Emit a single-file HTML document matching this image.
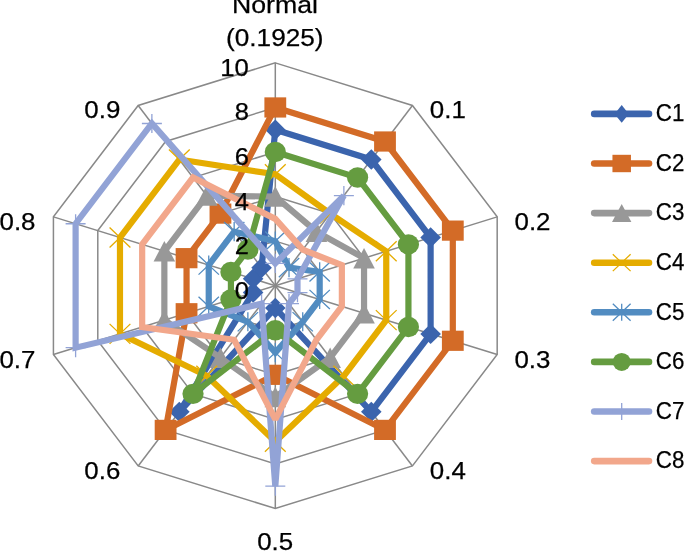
<!DOCTYPE html>
<html lang="en"><head><meta charset="utf-8"><title>Radar chart</title>
<style>html,body{margin:0;padding:0;background:#fff}body{width:685px;height:552px;overflow:hidden}svg{display:block}</style>
</head><body>
<svg width="685" height="552" viewBox="0 0 685 552">
<rect width="685" height="552" fill="#fff"/>
<g fill="none" stroke="#898989" stroke-width="1.5">
<polygon points="275.3,241.14 302.73,249.65 319.68,271.93 319.68,299.47 302.73,321.75 275.3,330.26 247.87,321.75 230.92,299.47 230.92,271.93 247.87,249.65"/>
<polygon points="275.3,196.58 330.15,213.6 364.05,258.16 364.05,313.24 330.15,357.8 275.3,374.82 220.45,357.8 186.55,313.24 186.55,258.16 220.45,213.6"/>
<polygon points="275.3,152.02 357.58,177.55 408.43,244.39 408.43,327.01 357.58,393.85 275.3,419.38 193.02,393.85 142.17,327.01 142.17,244.39 193.02,177.55"/>
<polygon points="275.3,107.46 385,141.5 452.81,230.62 452.81,340.78 385,429.9 275.3,463.94 165.6,429.9 97.79,340.78 97.79,230.62 165.6,141.5"/>
<polygon points="275.3,62.9 412.43,105.45 497.18,216.85 497.18,354.55 412.43,465.95 275.3,508.5 138.17,465.95 53.42,354.55 53.42,216.85 138.17,105.45"/>
<line x1="275.3" y1="285.7" x2="275.3" y2="62.9"/>
<line x1="275.3" y1="285.7" x2="412.43" y2="105.45"/>
<line x1="275.3" y1="285.7" x2="497.18" y2="216.85"/>
<line x1="275.3" y1="285.7" x2="497.18" y2="354.55"/>
<line x1="275.3" y1="285.7" x2="412.43" y2="465.95"/>
<line x1="275.3" y1="285.7" x2="275.3" y2="508.5"/>
<line x1="275.3" y1="285.7" x2="138.17" y2="465.95"/>
<line x1="275.3" y1="285.7" x2="53.42" y2="354.55"/>
<line x1="275.3" y1="285.7" x2="53.42" y2="216.85"/>
<line x1="275.3" y1="285.7" x2="138.17" y2="105.45"/>
</g>
<g>
<polygon points="275.3,129.74 371.29,159.53 430.62,237.51 430.62,333.89 371.29,411.87 275.3,307.98 179.31,411.87 253.11,292.58 253.11,278.82 261.59,267.68" fill="none" stroke="#3b64ad" stroke-width="6.2" stroke-linejoin="miter" stroke-miterlimit="2"/>
<polygon points="275.3,119.54 285.6,129.74 275.3,139.94 265,129.74" fill="#3b64ad"/>
<polygon points="371.29,149.33 381.59,159.53 371.29,169.73 360.99,159.53" fill="#3b64ad"/>
<polygon points="430.62,227.31 440.92,237.51 430.62,247.71 420.32,237.51" fill="#3b64ad"/>
<polygon points="430.62,323.69 440.92,333.89 430.62,344.09 420.32,333.89" fill="#3b64ad"/>
<polygon points="371.29,401.67 381.59,411.87 371.29,422.07 360.99,411.87" fill="#3b64ad"/>
<polygon points="275.3,297.78 285.6,307.98 275.3,318.18 265,307.98" fill="#3b64ad"/>
<polygon points="179.31,401.67 189.61,411.87 179.31,422.07 169.01,411.87" fill="#3b64ad"/>
<polygon points="253.11,282.38 263.41,292.58 253.11,302.78 242.81,292.58" fill="#3b64ad"/>
<polygon points="253.11,268.62 263.41,278.82 253.11,289.02 242.81,278.82" fill="#3b64ad"/>
<polygon points="261.59,257.48 271.89,267.68 261.59,277.88 251.29,267.68" fill="#3b64ad"/>
</g>
<g>
<polygon points="275.3,107.46 385,141.5 452.81,230.62 452.81,340.78 385,429.9 275.3,374.82 165.6,429.9 186.55,313.24 186.55,258.16 220.45,213.6" fill="none" stroke="#d36b27" stroke-width="6.2" stroke-linejoin="miter" stroke-miterlimit="2"/>
<rect x="264.4" y="97.36" width="21.8" height="20.2" fill="#d36b27"/>
<rect x="374.1" y="131.4" width="21.8" height="20.2" fill="#d36b27"/>
<rect x="441.91" y="220.52" width="21.8" height="20.2" fill="#d36b27"/>
<rect x="441.91" y="330.68" width="21.8" height="20.2" fill="#d36b27"/>
<rect x="374.1" y="419.8" width="21.8" height="20.2" fill="#d36b27"/>
<rect x="264.4" y="364.72" width="21.8" height="20.2" fill="#d36b27"/>
<rect x="154.7" y="419.8" width="21.8" height="20.2" fill="#d36b27"/>
<rect x="175.65" y="303.14" width="21.8" height="20.2" fill="#d36b27"/>
<rect x="175.65" y="248.06" width="21.8" height="20.2" fill="#d36b27"/>
<rect x="209.55" y="203.5" width="21.8" height="20.2" fill="#d36b27"/>
</g>
<g>
<polygon points="275.3,196.58 316.44,231.63 364.05,258.16 364.05,313.24 330.15,357.8 275.3,397.1 220.45,357.8 164.36,320.12 164.36,251.28 206.73,195.58" fill="none" stroke="#989898" stroke-width="6.2" stroke-linejoin="miter" stroke-miterlimit="2"/>
<polygon points="275.3,186.33 286.1,206.83 264.5,206.83" fill="#989898"/>
<polygon points="316.44,221.38 327.24,241.88 305.64,241.88" fill="#989898"/>
<polygon points="364.05,247.91 374.85,268.41 353.25,268.41" fill="#989898"/>
<polygon points="364.05,302.99 374.85,323.49 353.25,323.49" fill="#989898"/>
<polygon points="330.15,347.55 340.95,368.05 319.35,368.05" fill="#989898"/>
<polygon points="275.3,386.85 286.1,407.35 264.5,407.35" fill="#989898"/>
<polygon points="220.45,347.55 231.25,368.05 209.65,368.05" fill="#989898"/>
<polygon points="164.36,309.87 175.16,330.37 153.56,330.37" fill="#989898"/>
<polygon points="164.36,241.03 175.16,261.53 153.56,261.53" fill="#989898"/>
<polygon points="206.73,185.33 217.53,205.83 195.93,205.83" fill="#989898"/>
</g>
<g>
<polygon points="275.3,174.3 330.15,213.6 386.24,251.28 386.24,320.12 343.87,375.82 275.3,441.66 206.73,375.82 119.98,333.89 119.98,237.51 179.31,159.53" fill="none" stroke="#e5ac00" stroke-width="6.2" stroke-linejoin="miter" stroke-miterlimit="2"/>
<path d="M264.9 164.3L285.7 184.3M264.9 184.3L285.7 164.3" stroke="#e5ac00" stroke-width="1.3" fill="none"/>
<path d="M319.75 203.6L340.55 223.6M319.75 223.6L340.55 203.6" stroke="#e5ac00" stroke-width="1.3" fill="none"/>
<path d="M375.84 241.28L396.64 261.28M375.84 261.28L396.64 241.28" stroke="#e5ac00" stroke-width="1.3" fill="none"/>
<path d="M375.84 310.12L396.64 330.12M375.84 330.12L396.64 310.12" stroke="#e5ac00" stroke-width="1.3" fill="none"/>
<path d="M333.47 365.82L354.27 385.82M333.47 385.82L354.27 365.82" stroke="#e5ac00" stroke-width="1.3" fill="none"/>
<path d="M264.9 431.66L285.7 451.66M264.9 451.66L285.7 431.66" stroke="#e5ac00" stroke-width="1.3" fill="none"/>
<path d="M196.33 365.82L217.13 385.82M196.33 385.82L217.13 365.82" stroke="#e5ac00" stroke-width="1.3" fill="none"/>
<path d="M109.58 323.89L130.38 343.89M109.58 343.89L130.38 323.89" stroke="#e5ac00" stroke-width="1.3" fill="none"/>
<path d="M109.58 227.51L130.38 247.51M109.58 247.51L130.38 227.51" stroke="#e5ac00" stroke-width="1.3" fill="none"/>
<path d="M168.91 149.53L189.71 169.53M168.91 169.53L189.71 149.53" stroke="#e5ac00" stroke-width="1.3" fill="none"/>
</g>
<g>
<polygon points="275.3,241.14 289.01,267.68 319.68,271.93 319.68,299.47 302.73,321.75 275.3,352.54 247.87,321.75 208.74,306.35 208.74,265.05 234.16,231.63" fill="none" stroke="#528cc1" stroke-width="6.2" stroke-linejoin="miter" stroke-miterlimit="2"/>
<path d="M265.1 231.54L285.5 250.74M265.1 250.74L285.5 231.54M275.3 231.54L275.3 250.74" stroke="#528cc1" stroke-width="1.3" fill="none"/>
<path d="M278.81 258.08L299.21 277.28M278.81 277.28L299.21 258.08M289.01 258.08L289.01 277.28" stroke="#528cc1" stroke-width="1.3" fill="none"/>
<path d="M309.48 262.33L329.88 281.53M309.48 281.53L329.88 262.33M319.68 262.33L319.68 281.53" stroke="#528cc1" stroke-width="1.3" fill="none"/>
<path d="M309.48 289.87L329.88 309.07M309.48 309.07L329.88 289.87M319.68 289.87L319.68 309.07" stroke="#528cc1" stroke-width="1.3" fill="none"/>
<path d="M292.53 312.15L312.93 331.35M292.53 331.35L312.93 312.15M302.73 312.15L302.73 331.35" stroke="#528cc1" stroke-width="1.3" fill="none"/>
<path d="M265.1 342.94L285.5 362.14M265.1 362.14L285.5 342.94M275.3 342.94L275.3 362.14" stroke="#528cc1" stroke-width="1.3" fill="none"/>
<path d="M237.67 312.15L258.07 331.35M237.67 331.35L258.07 312.15M247.87 312.15L247.87 331.35" stroke="#528cc1" stroke-width="1.3" fill="none"/>
<path d="M198.54 296.75L218.94 315.95M198.54 315.95L218.94 296.75M208.74 296.75L208.74 315.95" stroke="#528cc1" stroke-width="1.3" fill="none"/>
<path d="M198.54 255.45L218.94 274.65M198.54 274.65L218.94 255.45M208.74 255.45L208.74 274.65" stroke="#528cc1" stroke-width="1.3" fill="none"/>
<path d="M223.96 222.03L244.36 241.23M223.96 241.23L244.36 222.03M234.16 222.03L234.16 241.23" stroke="#528cc1" stroke-width="1.3" fill="none"/>
</g>
<g>
<polygon points="275.3,152.02 357.58,177.55 408.43,244.39 408.43,327.01 357.58,393.85 275.3,330.26 193.02,393.85 230.92,299.47 230.92,271.93 247.87,249.65" fill="none" stroke="#659c40" stroke-width="6.2" stroke-linejoin="miter" stroke-miterlimit="2"/>
<ellipse cx="275.3" cy="152.02" rx="10.6" ry="10.2" fill="#659c40"/>
<ellipse cx="357.58" cy="177.55" rx="10.6" ry="10.2" fill="#659c40"/>
<ellipse cx="408.43" cy="244.39" rx="10.6" ry="10.2" fill="#659c40"/>
<ellipse cx="408.43" cy="327.01" rx="10.6" ry="10.2" fill="#659c40"/>
<ellipse cx="357.58" cy="393.85" rx="10.6" ry="10.2" fill="#659c40"/>
<ellipse cx="275.3" cy="330.26" rx="10.6" ry="10.2" fill="#659c40"/>
<ellipse cx="193.02" cy="393.85" rx="10.6" ry="10.2" fill="#659c40"/>
<ellipse cx="230.92" cy="299.47" rx="10.6" ry="10.2" fill="#659c40"/>
<ellipse cx="230.92" cy="271.93" rx="10.6" ry="10.2" fill="#659c40"/>
<ellipse cx="247.87" cy="249.65" rx="10.6" ry="10.2" fill="#659c40"/>
</g>
<g>
<polygon points="275.3,263.42 343.87,195.58 297.49,278.82 297.49,292.58 289.01,303.72 275.3,486.22 261.59,303.72 75.61,347.66 75.61,223.74 151.88,123.48" fill="none" stroke="#92a3d6" stroke-width="6.2" stroke-linejoin="miter" stroke-miterlimit="2"/>
<path d="M265.3 263.42L285.3 263.42M275.3 253.82L275.3 273.02" stroke="#92a3d6" stroke-width="1.3" fill="none"/>
<path d="M333.87 195.58L353.87 195.58M343.87 185.98L343.87 205.18" stroke="#92a3d6" stroke-width="1.3" fill="none"/>
<path d="M287.49 278.82L307.49 278.82M297.49 269.22L297.49 288.42" stroke="#92a3d6" stroke-width="1.3" fill="none"/>
<path d="M287.49 292.58L307.49 292.58M297.49 282.98L297.49 302.18" stroke="#92a3d6" stroke-width="1.3" fill="none"/>
<path d="M279.01 303.72L299.01 303.72M289.01 294.12L289.01 313.32" stroke="#92a3d6" stroke-width="1.3" fill="none"/>
<path d="M265.3 486.22L285.3 486.22M275.3 476.62L275.3 495.82" stroke="#92a3d6" stroke-width="1.3" fill="none"/>
<path d="M251.59 303.72L271.59 303.72M261.59 294.12L261.59 313.32" stroke="#92a3d6" stroke-width="1.3" fill="none"/>
<path d="M65.61 347.66L85.61 347.66M75.61 338.06L75.61 357.26" stroke="#92a3d6" stroke-width="1.3" fill="none"/>
<path d="M65.61 223.74L85.61 223.74M75.61 214.14L75.61 233.34" stroke="#92a3d6" stroke-width="1.3" fill="none"/>
<path d="M141.88 123.48L161.88 123.48M151.88 113.88L151.88 133.08" stroke="#92a3d6" stroke-width="1.3" fill="none"/>
</g>
<g>
<polygon points="275.3,218.86 302.73,249.65 341.86,265.05 341.86,306.35 316.44,339.77 275.3,419.38 234.16,339.77 142.17,327.01 142.17,244.39 193.02,177.55" fill="none" stroke="#f2a78b" stroke-width="6.2" stroke-linejoin="miter" stroke-miterlimit="2"/>
</g>
<line x1="594.2" y1="113.9" x2="649" y2="113.9" stroke="#3b64ad" stroke-width="6.6" stroke-linecap="round"/>
<polygon points="621.7,105 628.8,113.9 621.7,122.8 614.6,113.9" fill="#3b64ad"/>
<line x1="594.2" y1="163.5" x2="649" y2="163.5" stroke="#d36b27" stroke-width="6.6" stroke-linecap="round"/>
<rect x="612.45" y="154.8" width="18.5" height="17.4" fill="#d36b27"/>
<line x1="594.2" y1="213.1" x2="649" y2="213.1" stroke="#989898" stroke-width="6.6" stroke-linecap="round"/>
<polygon points="621.7,204.1 631.4,222.1 612,222.1" fill="#989898"/>
<line x1="594.2" y1="262.7" x2="649" y2="262.7" stroke="#e5ac00" stroke-width="6.6" stroke-linecap="round"/>
<path d="M612.8 254.3L630.6 271.1M612.8 271.1L630.6 254.3" stroke="#e5ac00" stroke-width="1.3" fill="none"/>
<line x1="594.2" y1="312.3" x2="649" y2="312.3" stroke="#528cc1" stroke-width="6.6" stroke-linecap="round"/>
<path d="M612.8 303.8L630.6 320.8M612.8 320.8L630.6 303.8M621.7 303.8L621.7 320.8" stroke="#528cc1" stroke-width="1.3" fill="none"/>
<line x1="594.2" y1="361.9" x2="649" y2="361.9" stroke="#659c40" stroke-width="6.6" stroke-linecap="round"/>
<ellipse cx="621.7" cy="361.9" rx="9.0" ry="9.0" fill="#659c40"/>
<line x1="594.2" y1="411.5" x2="649" y2="411.5" stroke="#92a3d6" stroke-width="6.6" stroke-linecap="round"/>
<path d="M612.8 411.5L630.6 411.5M621.7 403.1L621.7 419.9" stroke="#92a3d6" stroke-width="1.3" fill="none"/>
<line x1="594.2" y1="461.1" x2="649" y2="461.1" stroke="#f2a78b" stroke-width="6.6" stroke-linecap="round"/>
<g font-family="'Liberation Sans', sans-serif" font-size="24.6" fill="#000" stroke="#000" stroke-width="0.25">
<text x="655.8" y="121.1" text-anchor="start" textLength="28.6" lengthAdjust="spacingAndGlyphs">C1</text>
<text x="655.8" y="170.7" text-anchor="start" textLength="28.6" lengthAdjust="spacingAndGlyphs">C2</text>
<text x="655.8" y="220.3" text-anchor="start" textLength="28.6" lengthAdjust="spacingAndGlyphs">C3</text>
<text x="655.8" y="269.9" text-anchor="start" textLength="28.6" lengthAdjust="spacingAndGlyphs">C4</text>
<text x="655.8" y="319.5" text-anchor="start" textLength="28.6" lengthAdjust="spacingAndGlyphs">C5</text>
<text x="655.8" y="369.1" text-anchor="start" textLength="28.6" lengthAdjust="spacingAndGlyphs">C6</text>
<text x="655.8" y="418.7" text-anchor="start" textLength="28.6" lengthAdjust="spacingAndGlyphs">C7</text>
<text x="655.8" y="468.3" text-anchor="start" textLength="28.6" lengthAdjust="spacingAndGlyphs">C8</text>
<text x="275" y="12.5" text-anchor="middle" textLength="86" lengthAdjust="spacingAndGlyphs">Normal</text>
<text x="274.8" y="45.8" text-anchor="middle" textLength="97.5" lengthAdjust="spacingAndGlyphs">(0.1925)</text>
<text x="248.9" y="298.7" text-anchor="end" textLength="14.2" lengthAdjust="spacingAndGlyphs">0</text>
<text x="248.9" y="254.14" text-anchor="end" textLength="14.2" lengthAdjust="spacingAndGlyphs">2</text>
<text x="248.9" y="209.58" text-anchor="end" textLength="14.2" lengthAdjust="spacingAndGlyphs">4</text>
<text x="248.9" y="165.02" text-anchor="end" textLength="14.2" lengthAdjust="spacingAndGlyphs">6</text>
<text x="248.9" y="120.46" text-anchor="end" textLength="14.2" lengthAdjust="spacingAndGlyphs">8</text>
<text x="248.9" y="75.9" text-anchor="end" textLength="28.6" lengthAdjust="spacingAndGlyphs">10</text>
<text x="429.8" y="118.4" text-anchor="start" textLength="36" lengthAdjust="spacingAndGlyphs">0.1</text>
<text x="514.5" y="230" text-anchor="start" textLength="36" lengthAdjust="spacingAndGlyphs">0.2</text>
<text x="514.4" y="367.5" text-anchor="start" textLength="36" lengthAdjust="spacingAndGlyphs">0.3</text>
<text x="429.8" y="478.8" text-anchor="start" textLength="36" lengthAdjust="spacingAndGlyphs">0.4</text>
<text x="257.2" y="550.3" text-anchor="start" textLength="36" lengthAdjust="spacingAndGlyphs">0.5</text>
<text x="84.3" y="478.8" text-anchor="start" textLength="36" lengthAdjust="spacingAndGlyphs">0.6</text>
<text x="-0.6" y="367.5" text-anchor="start" textLength="36" lengthAdjust="spacingAndGlyphs">0.7</text>
<text x="-0.5" y="229.9" text-anchor="start" textLength="36" lengthAdjust="spacingAndGlyphs">0.8</text>
<text x="84.3" y="118.3" text-anchor="start" textLength="36" lengthAdjust="spacingAndGlyphs">0.9</text>
</g>
</svg>
</body></html>
